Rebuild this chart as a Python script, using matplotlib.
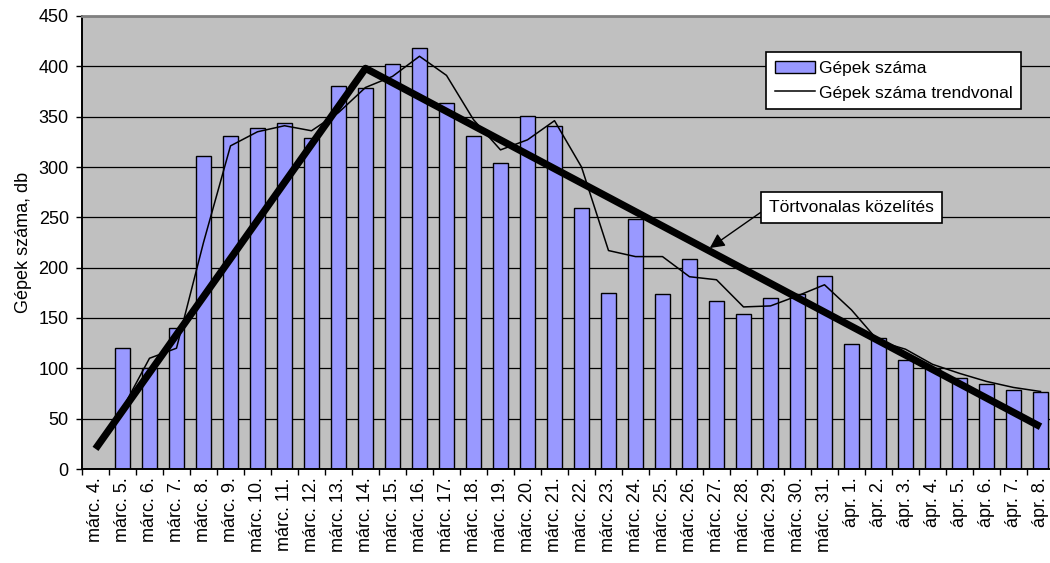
import matplotlib.pyplot as plt

plt.rcParams['font.family'] = ['Liberation Sans', 'DejaVu Sans']

days = ['márc. 4.', 'márc. 5.', 'márc. 6.', 'márc. 7.', 'márc. 8.', 'márc. 9.',
        'márc. 10.', 'márc. 11.', 'márc. 12.', 'márc. 13.', 'márc. 14.', 'márc. 15.',
        'márc. 16.', 'márc. 17.', 'márc. 18.', 'márc. 19.', 'márc. 20.', 'márc. 21.',
        'márc. 22.', 'márc. 23.', 'márc. 24.', 'márc. 25.', 'márc. 26.', 'márc. 27.',
        'márc. 28.', 'márc. 29.', 'márc. 30.', 'márc. 31.', 'ápr. 1.', 'ápr. 2.',
        'ápr. 3.', 'ápr. 4.', 'ápr. 5.', 'ápr. 6.', 'ápr. 7.', 'ápr. 8.']

gepek = [0, 120, 100, 140, 311, 331, 339, 344, 329, 380, 378, 402,
         418, 364, 331, 304, 351, 341, 259, 175, 248, 174, 209, 167,
         154, 170, 174, 192, 124, 130, 108, 100, 90, 84, 78, 76]

# trendvonal, márc. 5.-tol
trend_days = days[1:]
trend = [60, 110, 120, 225, 321, 335, 341, 336, 354, 379, 390,
         410, 391, 347, 317, 327, 346, 300, 217, 211, 211, 191, 188,
         161, 162, 172, 183, 158, 127, 119, 104, 95, 87, 81, 77]

# törtvonalas közelítés
tort_days = ['márc. 4.', 'márc. 14.', 'ápr. 8.']
tort = [20, 398, 42]

fig = plt.figure(figsize=(10.5, 5.63), dpi=100)
ax = fig.add_axes([82 / 1050, 94 / 563, (1054 - 82) / 1050, 453 / 563])
ax.set_facecolor('#C0C0C0')

x = list(range(len(days)))
pos = {d: i for i, d in enumerate(days)}

bars = ax.bar(x, gepek, width=0.57, color='#9999FF', edgecolor='black', linewidth=1.0,
              label='Gépek száma', zorder=2)
tl, = ax.plot([pos[d] for d in trend_days], trend, color='black', lw=1.1,
              label='Gépek száma trendvonal', zorder=3)
ax.plot([pos[d] for d in tort_days], tort, color='black', lw=5.2,
        solid_capstyle='butt', zorder=4)

ax.set_xlim(-0.5, len(days) - 0.5)
ax.set_ylim(0, 450)
ax.set_yticks(range(0, 451, 50))
ax.yaxis.grid(True, color='black', lw=0.9)
ax.set_axisbelow(True)

ax.set_xticks(x)
ax.set_xticklabels(days, rotation=90, fontsize=13)
ax.set_xticks([i - 0.5 for i in range(len(days) + 1)], minor=True)
ax.tick_params(axis='x', which='major', length=0, pad=6)
ax.tick_params(axis='x', which='minor', length=4.5, width=1, direction='out')
ax.tick_params(axis='y', length=4.5, width=1, pad=5, labelsize=13)

for s in ['left', 'bottom']:
    ax.spines[s].set_linewidth(1.4)
ax.spines['top'].set_color('#808080')
ax.spines['top'].set_linewidth(2)
ax.spines['right'].set_visible(False)

ax.set_ylabel('Gépek száma, db', fontsize=13, labelpad=5)

leg = ax.legend([bars, tl], ['Gépek száma', 'Gépek száma trendvonal'],
                loc='upper left', bbox_to_anchor=(0.7037, 0.9205), fontsize=12.5,
                frameon=True, fancybox=False, edgecolor='black', framealpha=1,
                borderaxespad=0, handlelength=2.3, handletextpad=0.25,
                borderpad=0.5, labelspacing=0.55)
leg.get_frame().set_linewidth(1.2)

ax.annotate('Törtvonalas közelítés', xy=(22.75, 219.5), xytext=(28.0, 260),
            fontsize=12.5, ha='center', va='center', zorder=6,
            bbox=dict(boxstyle='square,pad=0.45', fc='white', ec='black', lw=1.2),
            arrowprops=dict(arrowstyle='-|>', color='black', lw=1.0,
                            mutation_scale=22, relpos=(0, 0.55), shrinkA=0, shrinkB=0))

fig.savefig('out.png', dpi=100)
